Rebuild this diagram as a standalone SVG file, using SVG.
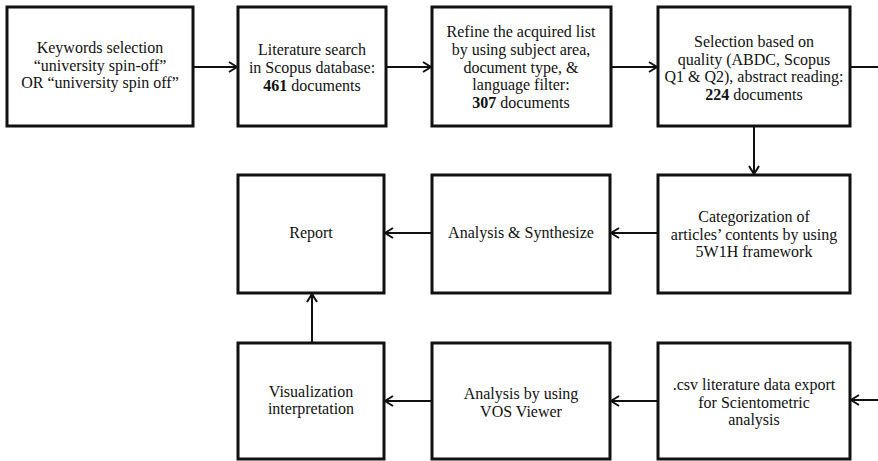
<svg xmlns="http://www.w3.org/2000/svg" width="878" height="461" viewBox="0 0 878 461">
<style>
.box{fill:#fff;stroke:#111;stroke-width:3}
.t{font-size:16px;fill:#111;text-anchor:middle}
.b{font-weight:bold}
.c{fill:none;stroke:#111;stroke-width:2}
</style>
<defs>
<marker id="ah" markerUnits="userSpaceOnUse" markerWidth="12" markerHeight="14" refX="9" refY="6" orient="auto" viewBox="0 0 12 12">
<path d="M1,1 L9,6 L1,11" fill="none" stroke="#111" stroke-width="2"/>
</marker>
</defs>
<rect width="878" height="461" fill="#fff"/>
<g id="connectors">
<line class="c" x1="193" y1="67" x2="237" y2="67" marker-end="url(#ah)"/>
<line class="c" x1="386" y1="67" x2="431" y2="67" marker-end="url(#ah)"/>
<line class="c" x1="611" y1="67" x2="657" y2="67" marker-end="url(#ah)"/>
<line class="c" x1="850" y1="67" x2="878" y2="67"/>
<line class="c" x1="754" y1="126" x2="754" y2="174" marker-end="url(#ah)"/>
<line class="c" x1="658" y1="233" x2="611" y2="233" marker-end="url(#ah)"/>
<line class="c" x1="432" y1="233" x2="385" y2="233" marker-end="url(#ah)"/>
<line class="c" x1="878" y1="400" x2="851" y2="400" marker-end="url(#ah)"/>
<line class="c" x1="658" y1="401" x2="611" y2="401" marker-end="url(#ah)"/>
<line class="c" x1="432" y1="401" x2="385" y2="401" marker-end="url(#ah)"/>
<line class="c" x1="312" y1="343" x2="312" y2="294" marker-end="url(#ah)"/>
</g>
<g font-family="'Liberation Serif', 'Times New Roman', 'DejaVu Serif', serif">
<g id="n1">
<rect class="box" x="7" y="7" width="186" height="119"/>
<text class="t" x="100" y="53">Keywords selection</text>
<text class="t" x="100" y="71">“university spin-off”</text>
<text class="t" x="100" y="88">OR “university spin off”</text>
</g>
<g id="n2">
<rect class="box" x="238" y="7" width="148" height="119"/>
<text class="t" x="312" y="55">Literature search</text>
<text class="t" x="312" y="73">in Scopus database:</text>
<text class="t" x="312" y="91"><tspan class="b">461</tspan> documents</text>
</g>
<g id="n3">
<rect class="box" x="432" y="7" width="179" height="119"/>
<text class="t" x="521" y="37">Refine the acquired list</text>
<text class="t" x="521" y="55">by using subject area,</text>
<text class="t" x="521" y="73">document type, &amp;</text>
<text class="t" x="521" y="90">language filter:</text>
<text class="t" x="521" y="108"><tspan class="b">307</tspan> documents</text>
</g>
<g id="n4">
<rect class="box" x="658" y="7" width="192" height="119"/>
<text class="t" x="754" y="47">Selection based on</text>
<text class="t" x="754" y="65">quality (ABDC, Scopus</text>
<text class="t" x="754" y="82">Q1 &amp; Q2), abstract reading:</text>
<text class="t" x="754" y="100"><tspan class="b">224</tspan> documents</text>
</g>
<g id="n5">
<rect class="box" x="658" y="175" width="192" height="118"/>
<text class="t" x="754" y="222">Categorization of</text>
<text class="t" x="754" y="240">articles’ contents by using</text>
<text class="t" x="754" y="257">5W1H framework</text>
</g>
<g id="n6">
<rect class="box" x="432" y="175" width="178" height="118"/>
<text class="t" x="521" y="238">Analysis &amp; Synthesize</text>
</g>
<g id="n7">
<rect class="box" x="238" y="175" width="146" height="118"/>
<text class="t" x="311" y="238">Report</text>
</g>
<g id="n8">
<rect class="box" x="658" y="343" width="192" height="116"/>
<text class="t" x="754" y="390">.csv literature data export</text>
<text class="t" x="754" y="408">for Scientometric</text>
<text class="t" x="754" y="425">analysis</text>
</g>
<g id="n9">
<rect class="box" x="432" y="343" width="178" height="116"/>
<text class="t" x="521" y="399">Analysis by using</text>
<text class="t" x="521" y="417">VOS Viewer</text>
</g>
<g id="n10">
<rect class="box" x="238" y="343" width="146" height="116"/>
<text class="t" x="311" y="397">Visualization</text>
<text class="t" x="311" y="414">interpretation</text>
</g>
</g>
</svg>
